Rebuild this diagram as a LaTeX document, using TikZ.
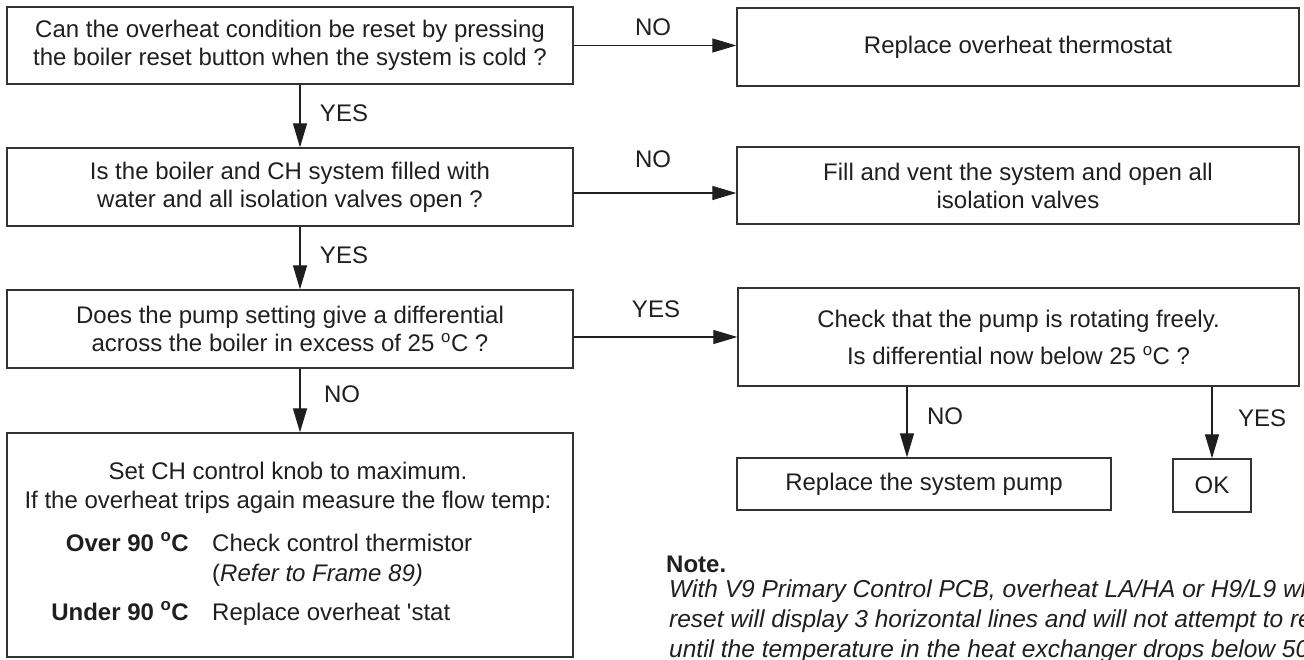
\documentclass[tikz,border=0pt]{standalone}
\usepackage{fontspec}
\setmainfont{Liberation Sans}[Ligatures=TeXOff]
\usetikzlibrary{arrows.meta}
\newcommand\dg{\textsuperscript{o}}
\newcommand\bodyfont{\fontsize{24}{28}\selectfont}
\newcommand\notefont{\fontsize{24.5}{28}\selectfont}
\begin{document}
\begin{tikzpicture}[x=1pt,y=-1pt,
  box/.style={draw=black!80, line width=1.3pt, inner sep=0pt, align=center, font=\bodyfont, text=black!88},
  lbl/.style={font=\bodyfont, text=black!88, inner sep=0pt, text height=17pt, text depth=0pt},
  txt/.style={font=\bodyfont, text=black!88, inner sep=0pt},
  arr/.style={draw=black!88, line width=1.2pt, -{Triangle[length=24pt,width=14pt]}}
]
\clip (0,0) rectangle (1304,659);
% boxes
\node[box, minimum width=566pt, minimum height=77pt] (A) at (290,45.5)
  {Can the overheat condition be reset by pressing\\the boiler reset button when the system is cold ?};
\node[box, minimum width=562pt, minimum height=78pt] (R1) at (1018,47) {Replace overheat thermostat};
\node[box, minimum width=566pt, minimum height=78pt] (B) at (290,187)
  {Is the boiler and CH system filled with\\water and all isolation valves open ?};
\node[box, minimum width=562pt, minimum height=77pt] (R2) at (1018,185.5)
  {Fill and vent the system and open all\\isolation valves};
\node[box, minimum width=566pt, minimum height=78pt] (C) at (290,329)
  {Does the pump setting give a differential\\across the boiler in excess of 25 \dg C ?};
\node[box, minimum width=561pt, minimum height=98pt, font=\fontsize{24}{37}\selectfont] (D) at (1018.5,337)
  {Check that the pump is rotating freely.\\Is differential now below 25 \dg C ?};
\node[box, minimum width=566pt, minimum height=224pt] (E) at (290,545) {};
\node[box, minimum width=374pt, minimum height=52pt] (F) at (924,484) {Replace the system pump};
\node[box, minimum width=78pt, minimum height=53pt] (OK) at (1212,485.5) {OK};
% connectors
\draw[arr] (A.east) -- (A.east -| R1.west);
\draw[arr] ([yshift=-6pt]B.east) -- ([yshift=-6pt]B.east -| R2.west);
\draw[arr] (D.west -| C.east) -- (D.west);
\draw[arr] ([xshift=10pt]A.south) -- ([xshift=10pt]B.north);
\draw[arr] ([xshift=10pt]B.south) -- ([xshift=10pt]C.north);
\draw[arr] ([xshift=10pt]C.south) -- ([xshift=10pt]E.north);
\draw[arr] ([xshift=-17pt]F.north |- D.south) -- ([xshift=-17pt]F.north);
\draw[arr] (OK.north |- D.south) -- (OK.north);
% labels
\node[lbl] (l1) at (653,27) {NO};
\node[lbl] (l2) at (344,113) {YES};
\node[lbl] (l3) at (653,159) {NO};
\node[lbl] (l4) at (344,255) {YES};
\node[lbl] (l5) at (656,309) {YES};
\node[lbl] (l6) at (342,394) {NO};
\node[lbl] (l7) at (945,416) {NO};
\node[lbl] (l8) at (1262,418) {YES};
% contents of E
\node[txt, anchor=base] (e1) at (288,479) {Set CH control knob to maximum.};
\node[txt, anchor=base] (e2) at (288,508) {If the overheat trips again measure the flow temp:};
\node[txt, anchor=base east, font=\bodyfont\bfseries] (e3) at (189,551) {Over 90 \dg C};
\node[txt, anchor=base west] (e4) at (212,551) {Check control thermistor};
\node[txt, anchor=base west] (e5) at (212,581) {(\textit{Refer to Frame 89)}};
\node[txt, anchor=base east, font=\bodyfont\bfseries] (e6) at (189,620) {Under 90 \dg C};
\node[txt, anchor=base west] (e7) at (212,620) {Replace overheat 'stat};
% note
\node[txt, anchor=base west, font=\bodyfont\bfseries] (note) at (666,572) {Note.};
\node[txt, anchor=base west, font=\notefont\itshape] (n1) at (669,597) {With V9 Primary Control PCB, overheat LA/HA or H9/L9 when};
\node[txt, anchor=base west, font=\notefont\itshape] (n2) at (669,627) {reset will display 3 horizontal lines and will not attempt to reset};
\node[txt, anchor=base west, font=\notefont\itshape] (n3) at (669,657) {until the temperature in the heat exchanger drops below 50 \dg C.};
\end{tikzpicture}
\end{document}
